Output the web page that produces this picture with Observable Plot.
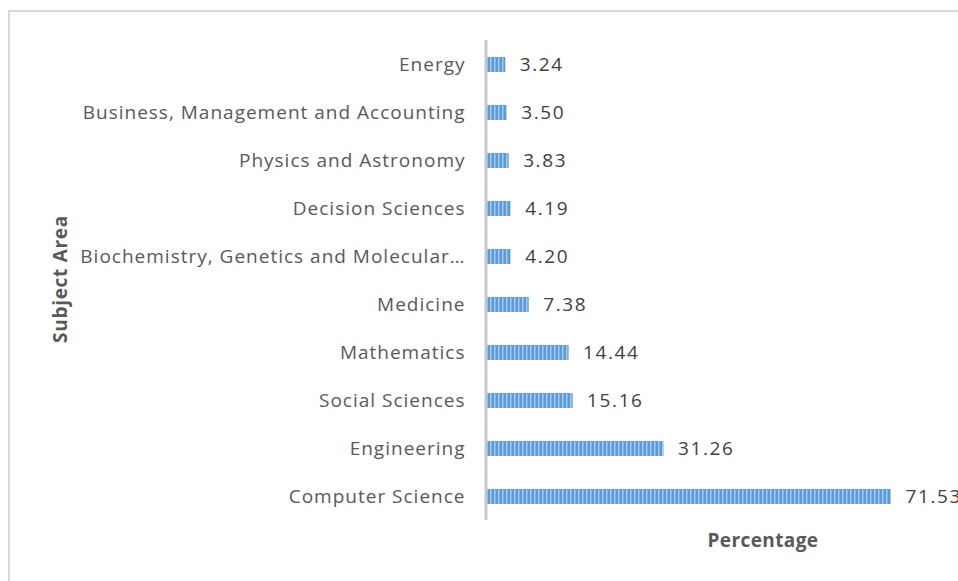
<!DOCTYPE html>
<html>
<head>
<meta charset="utf-8">
<script src="https://cdn.jsdelivr.net/npm/d3@7"></script>
<script src="https://cdn.jsdelivr.net/npm/@observablehq/plot@0.6"></script>
<style>
  html, body { margin: 0; padding: 0; background: #fff; }
  #wrap { position: relative; width: 958px; height: 581px; overflow: hidden; font-family: 'Open Sans', sans-serif; }
  #border { position: absolute; left: 8px; top: 10px; width: 1000px; height: 700px;
            border-left: 2px solid #d9d9d9; border-top: 2px solid #d9d9d9; box-sizing: border-box; }
  #chart { position: absolute; left: 0; top: 0; }
  #chart svg text { letter-spacing: 1px; }
  .title { position: absolute; font-weight: bold; font-size: 19px; color: #595959; white-space: nowrap;
           transform: translate(-50%, -50%); line-height: 1; }
  #ytitle { left: 60px; top: 279px; letter-spacing: 0.7px; transform: translate(-50%, -50%) rotate(-90deg); }
  #xtitle { left: 763px; top: 540px; letter-spacing: 0.4px; }
</style>
</head>
<body>
<div id="wrap"><div id="border"></div><div id="chart"></div>
<div class="title" id="ytitle"></div><div class="title" id="xtitle"></div></div>
<script>
const categories = ["Energy", "Business, Management and Accounting", "Physics and Astronomy", "Decision Sciences", "Biochemistry, Genetics and Molecular…", "Medicine", "Mathematics", "Social Sciences", "Engineering", "Computer Science"];
const values = [3.24, 3.50, 3.83, 4.19, 4.20, 7.38, 14.44, 15.16, 31.26, 71.53];
const valueLabels = ["3.24", "3.50", "3.83", "4.19", "4.20", "7.38", "14.44", "15.16", "31.26", "71.53"];
const xTitle = "Percentage";
const yTitle = "Subject Area";

document.getElementById("xtitle").textContent = xTitle;
document.getElementById("ytitle").textContent = yTitle;

const data = categories.map((c, i) => ({category: c, value: values[i], label: valueLabels[i]}));
const font = "'Open Sans', sans-serif";

const chart = Plot.plot({
  width: 958,
  height: 581,
  marginTop: 40,
  marginBottom: 61,
  marginLeft: 487,
  marginRight: 67,
  style: {fontFamily: font, fontSize: "19px", color: "#595959", background: "transparent"},
  x: {domain: [0, 71.53], axis: null},
  y: {domain: categories, paddingInner: 0.69, paddingOuter: 0.345, label: null, tickSize: 0, tickPadding: 22},
  marks: [
    Plot.barX(data, {x: "value", y: "category", fill: "url(#stripes)"}),
    Plot.ruleX([0], {stroke: "#c8c8c8", strokeWidth: 3, dx: -1.5}),
    Plot.text(data, {x: "value", y: "category", text: "label", textAnchor: "start", dx: 14, fill: "#404040", fontSize: 19})
  ]
});

const ns = "http://www.w3.org/2000/svg";
const defs = document.createElementNS(ns, "defs");
defs.innerHTML = `<pattern id="stripes" patternUnits="userSpaceOnUse" width="4" height="4">
  <rect x="0" y="0" width="4" height="4" fill="#5b9bd5"/>
  <rect x="2" y="0" width="1" height="4" fill="#a8c8ec"/>
  <rect x="3" y="0" width="1" height="4" fill="#7eb0e0"/>
</pattern>`;
chart.insertBefore(defs, chart.firstChild);
chart.querySelectorAll("g[aria-label='text'] text").forEach(el => el.style.letterSpacing = "1.6px");
document.getElementById("chart").appendChild(chart);
</script>
</body>
</html>
